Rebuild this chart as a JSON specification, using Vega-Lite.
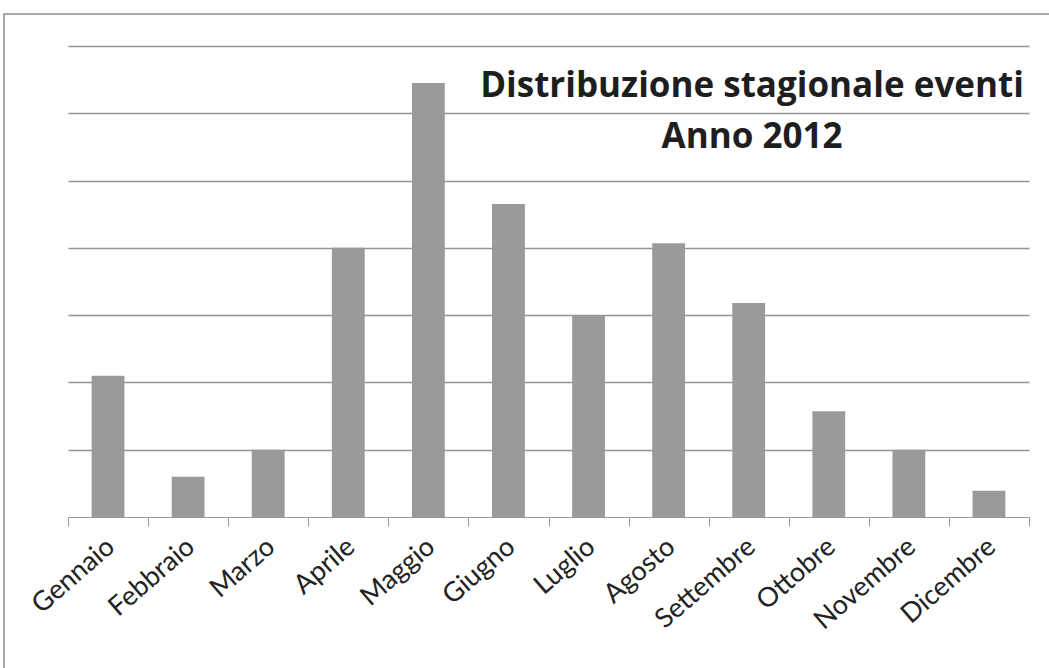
{
  "$schema": "https://vega.github.io/schema/vega-lite/v6.json",
  "autosize": {"type": "none"},
  "padding": {"left": 4, "top": 14, "right": 0, "bottom": 0},
  "width": 1052,
  "height": 662,
  "background": "white",
  "config": {
    "font": "Lato",
    "view": {"stroke": "#8c8c8c", "strokeWidth": 1.5}
  },
  "title": {
    "text": ["Distribuzione stagionale eventi", "Anno 2012"],
    "frame": "group",
    "anchor": "middle",
    "align": "center",
    "baseline": "top",
    "offset": 0,
    "dx": 222,
    "dy": 141,
    "lineHeight": 51,
    "font": "Open Sans",
    "fontSize": 35,
    "fontWeight": "bold",
    "color": "#1e1e1e"
  },
  "data": {
    "values": [
      {"mese": "Gennaio", "eventi": 21},
      {"mese": "Febbraio", "eventi": 6},
      {"mese": "Marzo", "eventi": 10},
      {"mese": "Aprile", "eventi": 40},
      {"mese": "Maggio", "eventi": 64.5},
      {"mese": "Giugno", "eventi": 46.5},
      {"mese": "Luglio", "eventi": 30},
      {"mese": "Agosto", "eventi": 40.7},
      {"mese": "Settembre", "eventi": 31.8},
      {"mese": "Ottobre", "eventi": 15.7},
      {"mese": "Novembre", "eventi": 10},
      {"mese": "Dicembre", "eventi": 3.9}
    ]
  },
  "mark": {"type": "bar", "color": "#9a9a9a", "width": {"band": 0.41}},
  "encoding": {
    "x": {
      "field": "mese",
      "type": "nominal",
      "sort": null,
      "scale": {"range": [64, 1025], "paddingInner": 0, "paddingOuter": 0},
      "axis": {
        "title": null,
        "grid": false,
        "labelAngle": -41,
        "labelFont": "Lato",
        "labelFontSize": 27,
        "labelColor": "#222222",
        "labelPadding": 7,
        "labelOffset": -6,
        "tickBand": "extent",
        "tickSize": 9,
        "tickColor": "#9a9a9a",
        "domainColor": "#9a9a9a",
        "domainWidth": 1.2,
        "offset": -159
      }
    },
    "y": {
      "field": "eventi",
      "type": "quantitative",
      "scale": {"domain": [0, 70], "range": [503, 32], "nice": false, "zero": true},
      "axis": {
        "title": null,
        "labels": false,
        "ticks": false,
        "domain": false,
        "grid": true,
        "values": [10, 20, 30, 40, 50, 60, 70],
        "gridColor": "#949494",
        "gridWidth": 1.5
      }
    }
  }
}
